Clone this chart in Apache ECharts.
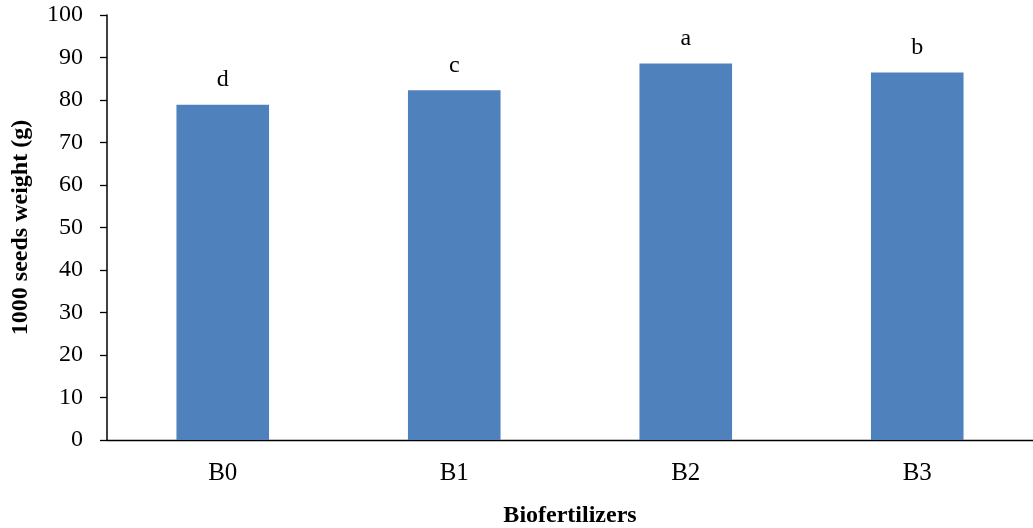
<!DOCTYPE html>
<html>
<head>
<meta charset="utf-8">
<script src="https://cdn.jsdelivr.net/npm/echarts@6/dist/echarts.min.js"></script>
<style>html,body{margin:0;padding:0;background:#fff}#c{width:1033px;height:528px}</style>
</head>
<body>
<div id="c"></div>
<script>
const categories = ['B0', 'B1', 'B2', 'B3'];
const seedWeight = [78.9, 82.3, 88.6, 86.5];
const letters = ['d', 'c', 'a', 'b'];
const yTicks = [0, 10, 20, 30, 40, 50, 60, 70, 80, 90, 100];

const FONT = '"Liberation Serif", "DejaVu Serif", serif';
const chart = echarts.init(document.getElementById('c'));
chart.setOption({
  animation: false,
  backgroundColor: '#fff',
  grid: { left: 107, right: 0, top: 15, bottom: 88, containLabel: false, outerBoundsMode: 'none' },
  xAxis: {
    type: 'category',
    data: categories,
    name: 'Biofertilizers',
    nameLocation: 'middle',
    nameGap: 64,
    nameTextStyle: { fontFamily: FONT, fontSize: 24, fontWeight: 'bold', color: '#000' },
    axisLine: { lineStyle: { color: '#000', width: 1.3 } },
    axisTick: { show: false },
    axisLabel: { fontFamily: FONT, fontSize: 25, color: '#000', margin: 21 }
  },
  yAxis: {
    type: 'value',
    min: yTicks[0],
    max: yTicks[yTicks.length - 1],
    interval: 10,
    name: '1000 seeds weight (g)',
    nameLocation: 'middle',
    nameGap: 74,
    nameRotate: 90,
    nameTextStyle: { fontFamily: FONT, fontSize: 24, fontWeight: 'bold', color: '#000' },
    axisLine: { show: true, lineStyle: { color: '#000', width: 1.5 } },
    axisTick: { show: true, length: 7, lineStyle: { color: '#000', width: 1.3 } },
    axisLabel: { fontFamily: FONT, fontSize: 24, color: '#000', margin: 24 },
    splitLine: { show: false }
  },
  series: [{
    type: 'bar',
    data: seedWeight,
    barWidth: '40%',
    itemStyle: { color: '#4F81BD' },
    label: {
      show: true,
      position: 'top',
      distance: 13,
      formatter: p => letters[p.dataIndex],
      fontFamily: FONT,
      fontSize: 24,
      color: '#000'
    }
  }]
});
</script>
</body>
</html>
